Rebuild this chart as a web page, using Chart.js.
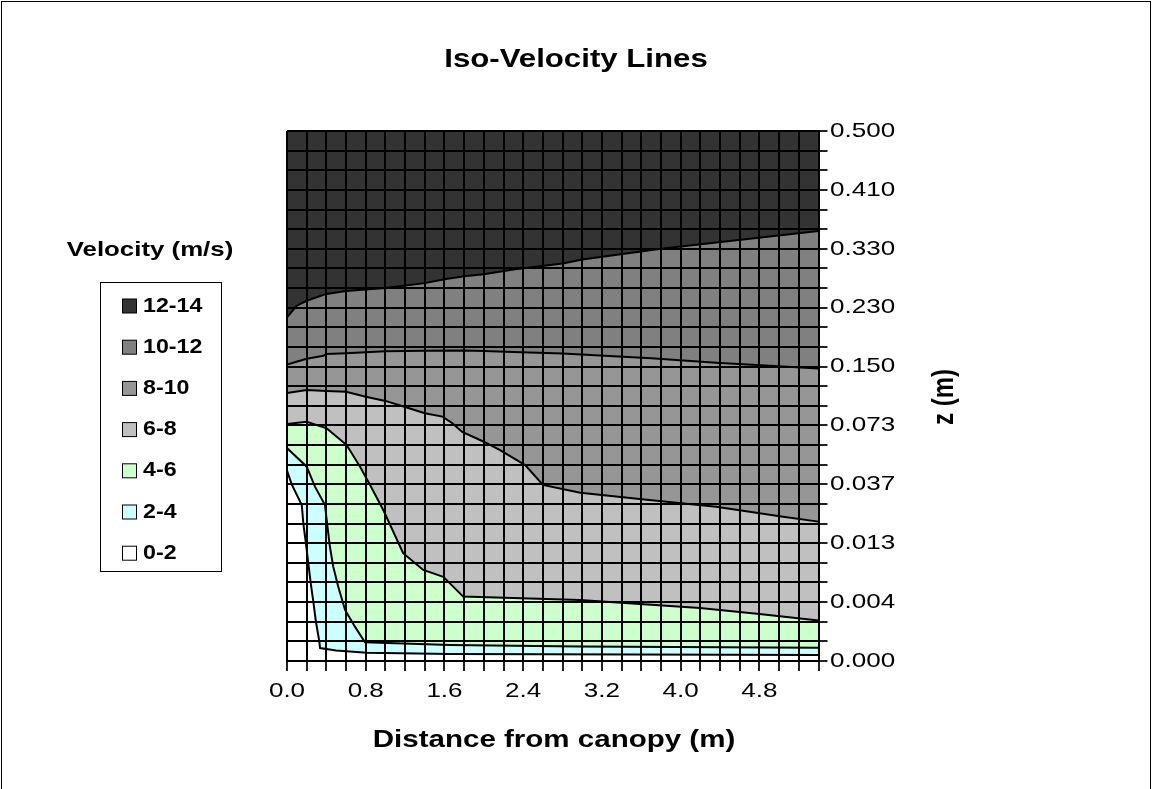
<!DOCTYPE html>
<html>
<head>
<meta charset="utf-8">
<script src="https://cdn.jsdelivr.net/npm/chart.js@4.4.1/dist/chart.umd.min.js"></script>
<style>
  html, body { margin: 0; padding: 0; background: #fff; }
  canvas { display: block; }
</style>
</head>
<body>
<canvas id="chart" width="1153" height="789"></canvas>
<script>
// axis labels: x every 0.2 m (labelled every 4th), z rows (labelled every 3rd)
const xTickLabels = ['0.0', '0.8', '1.6', '2.4', '3.2', '4.0', '4.8'];
const zTickLabels = ['0.000', '0.004', '0.013', '0.037', '0.073', '0.150', '0.230', '0.330', '0.410', '0.500'];

const bandLabels = ['0-2', '2-4', '4-6', '6-8', '8-10', '10-12', '12-14'];
const bandColors = ['#FFFFFF', '#CCFFFF', '#CCFFCC', '#C0C0C0', '#969696', '#808080', '#333333'];

// iso-velocity lines: x = distance (m), y = z row index (0 = 0.000, 27 = 0.500)
const c2X = [0, 0.048, 0.15, 0.166, 0.192, 0.216, 0.24, 0.268, 0.294, 0.328, 0.336, 0.498, 0.812, 1.656, 5.4];
const c2Y = [9.7, 9.0, 7.95, 7.0, 6.0, 5.0, 4.0, 3.0, 2.0, 1.0, 0.66, 0.53, 0.42, 0.36, 0.31];

const c4X = [0, 0.2, 0.284, 0.386, 0.41, 0.436, 0.47, 0.52, 0.59, 0.69, 0.792, 1.656, 2.976, 5.4];
const c4Y = [10.85, 9.9, 8.88, 7.95, 6.9, 5.82, 4.8, 3.79, 2.6, 1.75, 0.95, 0.82, 0.74, 0.68];

const c6X = [0, 0.2, 0.404, 0.606, 0.742, 0.844, 0.978, 1.18, 1.384, 1.588, 1.79, 2.976, 4.196, 4.8, 5.4];
const c6Y = [12.07, 12.19, 11.85, 11.0, 9.9, 8.97, 7.69, 5.49, 4.64, 4.29, 3.28, 3.11, 2.7, 2.39, 2.06];

const c8X = [0, 0.2, 0.4, 0.6, 0.8, 1.0, 1.2, 1.4, 1.58, 1.68, 1.78, 2.0, 2.16, 2.42, 2.6, 2.98, 3.68, 4.36, 5.04, 5.4];
const c8Y = [13.65, 13.8, 13.75, 13.72, 13.46, 13.25, 12.94, 12.62, 12.45, 12.11, 11.67, 11.17, 10.75, 9.98, 8.97, 8.57, 8.2, 7.86, 7.35, 7.1];

const c10X = [0, 0.2, 0.37, 0.4, 0.6, 1.0, 1.4, 1.8, 2.0, 2.3, 2.8, 3.7, 4.36, 5.04, 5.4];
const c10Y = [15.1, 15.4, 15.55, 15.64, 15.68, 15.78, 15.8, 15.82, 15.79, 15.74, 15.66, 15.42, 15.2, 15.0, 14.9];

const c12X = [0, 0.1, 0.2, 0.4, 0.6, 1.0, 1.4, 1.6, 1.8, 2.0, 2.3, 2.8, 3.0, 3.8, 5.4];
const c12Y = [17.5, 18.1, 18.35, 18.7, 18.85, 19.0, 19.25, 19.45, 19.6, 19.7, 19.95, 20.25, 20.45, 21.0, 21.9];

const topX = [0, 5.4];
const topY = [27, 27];

const lines = [[c2X, c2Y], [c4X, c4Y], [c6X, c6Y], [c8X, c8Y], [c10X, c10Y], [c12X, c12Y], [topX, topY]];
const toPts = (xs, ys) => xs.map((x, i) => ({ x, y: ys[i] }));

const FONT = 'Arial, "Liberation Sans", sans-serif';

// the reference text is a little wider than it is tall
function drawText(ctx, text, x, y, font, align, sx, rot) {
  ctx.save();
  ctx.font = font;
  ctx.fillStyle = '#000';
  ctx.textBaseline = 'middle';
  ctx.textAlign = align;
  ctx.translate(x, y);
  if (rot) {
    ctx.rotate(rot);
    ctx.scale(1, sx);
  } else {
    ctx.scale(sx, 1);
  }
  ctx.fillText(text, 0, 0);
  ctx.restore();
}

const decor = {
  id: 'decor',
  afterDraw(chart) {
    const { ctx } = chart;
    const xs = chart.scales.x, ys = chart.scales.y;

    ctx.save();
    ctx.strokeStyle = '#000';
    ctx.lineWidth = 1;
    ctx.strokeRect(1.5, 1.5, 1149, 820);
    ctx.restore();

    drawText(ctx, 'Iso-Velocity Lines', 576, 60, 'bold 26px ' + FONT, 'center', 1.2);
    drawText(ctx, 'Distance from canopy (m)', 554, 740, 'bold 24px ' + FONT, 'center', 1.23);
    drawText(ctx, 'z (m)', 945, 397, 'bold 24px ' + FONT, 'center', 1.22, -Math.PI / 2);

    xs.ticks.forEach((t, i) => {
      if (i % 4 === 0) {
        drawText(ctx, xTickLabels[i / 4], xs.getPixelForValue(t.value), 691, '21px ' + FONT, 'center', 1.24);
      }
    });
    ys.ticks.forEach((t, i) => {
      if (i % 3 === 0) {
        drawText(ctx, zTickLabels[i / 3], 830, ys.getPixelForValue(t.value), '21px ' + FONT, 'left', 1.24);
      }
    });

    // legend
    drawText(ctx, 'Velocity (m/s)', 150, 250, 'bold 21px ' + FONT, 'center', 1.23);
    ctx.save();
    ctx.strokeStyle = '#000';
    ctx.lineWidth = 1;
    ctx.strokeRect(100.5, 282.5, 121, 289);
    ctx.restore();
    for (let j = 0; j < bandLabels.length; j++) {
      const i = bandLabels.length - 1 - j;
      const y = 306 + 41.2 * j;
      ctx.save();
      ctx.fillStyle = bandColors[i];
      ctx.fillRect(122.5, y - 7, 14, 14);
      ctx.strokeStyle = '#000';
      ctx.lineWidth = 1;
      ctx.strokeRect(122.5, y - 7, 14, 14);
      ctx.restore();
      drawText(ctx, bandLabels[i], 143, y, 'bold 20px ' + FONT, 'left', 1.16);
    }
  }
};

new Chart(document.getElementById('chart'), {
  type: 'line',
  data: {
    datasets: bandLabels.map((label, i) => ({
      label,
      data: toPts(lines[i][0], lines[i][1]),
      backgroundColor: bandColors[i],
      borderColor: '#000',
      borderWidth: i === bandLabels.length - 1 ? 0 : 2,
      fill: 'start',
      pointRadius: 0,
      tension: 0
    }))
  },
  options: {
    responsive: false,
    animation: false,
    layout: { padding: { left: 287, top: 131, right: 0, bottom: 0 } },
    plugins: {
      legend: { display: false },
      title: { display: false },
      tooltip: { enabled: false }
    },
    scales: {
      x: {
        type: 'linear',
        position: 'bottom',
        min: 0,
        max: 5.4,
        afterFit: (s) => { s.height = 128; },
        ticks: { stepSize: 0.2, display: false, autoSkip: false },
        grid: { z: 1, color: '#000', lineWidth: 2, tickLength: 10, tickColor: '#222' },
        border: { z: 2, color: '#000', width: 2 }
      },
      y: {
        type: 'linear',
        position: 'right',
        min: 0,
        max: 27,
        afterFit: (s) => { s.width = 1153 - 818.5; },
        ticks: { stepSize: 1, display: false, autoSkip: false },
        grid: { z: 1, color: '#000', lineWidth: 2, tickLength: 9, tickColor: '#222' },
        border: { z: 2, color: '#000', width: 2 }
      }
    }
  },
  plugins: [decor]
});
</script>
</body>
</html>
